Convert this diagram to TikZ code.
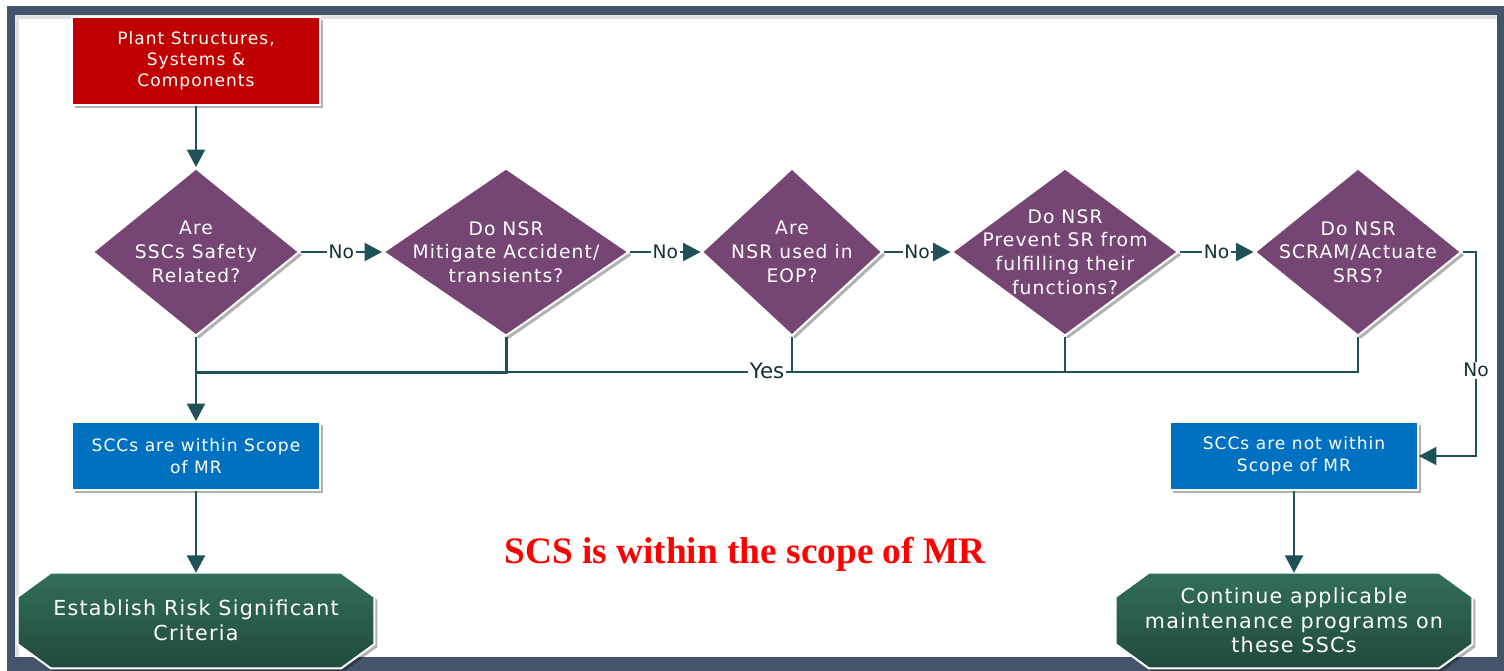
\documentclass[tikz,border=0pt]{standalone}
\usepackage{fontspec}
\setmainfont{DejaVu Sans}[LetterSpace=6]
\newfontfamily\titlefont{Liberation Serif}
\newfontfamily\lblfont{DejaVu Sans}
\usetikzlibrary{arrows.meta,shapes.geometric,shadows,backgrounds,calc}
\definecolor{framec}{RGB}{68,84,106}
\definecolor{redbox}{RGB}{192,0,0}
\definecolor{purp}{RGB}{117,70,115}
\definecolor{bluebox}{RGB}{0,112,192}
\definecolor{lineteal}{RGB}{31,82,87}
\definecolor{octtop}{RGB}{50,110,92}
\definecolor{octbot}{RGB}{33,74,62}
\newcommand\octpath[1]{([xshift=24.75pt]#1.north west) -- ([xshift=-24.75pt]#1.north east) -- ([yshift=-18pt]#1.north east) -- ([yshift=18pt]#1.south east) -- ([xshift=-24.75pt]#1.south east) -- ([xshift=24.75pt]#1.south west) -- ([yshift=18pt]#1.south west) -- ([yshift=-18pt]#1.north west) -- cycle}
\tikzset{
  ln/.style={draw=lineteal, line width=1.5pt},
  arr/.style={ln, -{Triangle[width=13.5pt,length=13pt]}},
  shad/.style={drop shadow={shadow xshift=2.25pt, shadow yshift=-2.25pt, opacity=0.3, fill=black}},
  rbox/.style={rectangle, fill=redbox, draw=white, line width=1.5pt, text=white,
    minimum width=186pt, minimum height=66pt, align=center, inner sep=0pt,
    font=\fontsize{12.8}{15.75}\selectfont, shad},
  bbox/.style={rectangle, fill=bluebox, draw=white, line width=1.5pt, text=white,
    minimum width=186pt, minimum height=51pt, align=center, inner sep=0pt,
    font=\fontsize{12.8}{16.5}\selectfont, shad},
  dia/.style={diamond, fill=purp, draw=white, line width=1.5pt, inner sep=0pt, shad},
  dtxt/.style={text=white, align=center, inner sep=0pt, font=\fontsize{14}{17.8}\selectfont},
  oct/.style={rectangle, text=white, align=center, inner sep=0pt,
    minimum width=267pt, minimum height=71.25pt, font=\fontsize{15.5}{18.5}\selectfont},
  lbl/.style={fill=white, text=lineteal!60!black, inner sep=1.2pt, font=\lblfont\fontsize{14}{15}\selectfont},
}
\begin{document}
\begin{tikzpicture}[x=0.75pt, y=-0.75pt]
\useasboundingbox (0,0) rectangle (1504,671);
\begin{scope}[on background layer]
  \fill[white] (0,0) rectangle (1504,671);
  \fill[framec, even odd rule] (7,6) rectangle (1505,672) (15,15) rectangle (1497,657);
  \draw[black!12, line width=2.25pt] (15,17) -- (1497,17);
  \draw[black!12, line width=2.25pt] (17,15) -- (17,657);
\end{scope}

% nodes
\node[rbox] (psc) at (196,61) {Plant Structures,\\Systems \&\\Components};

\node[dia, minimum width=155.25pt, minimum height=126pt,
  label={[dtxt]center:{Are\\SSCs Safety\\Related?}}] (d1) at (196,252) {};
\node[dia, minimum width=184.5pt, minimum height=126pt,
  label={[dtxt]center:{Do NSR\\Mitigate Accident/\\transients?}}] (d2) at (506,252) {};
\node[dia, minimum width=135.75pt, minimum height=126pt,
  label={[dtxt]center:{Are\\NSR used in\\EOP?}}] (d3) at (792,252) {};
\node[dia, minimum width=170.25pt, minimum height=126pt,
  label={[dtxt]center:{Do NSR\\Prevent SR from\\fulfilling their\\functions?}}] (d4) at (1065,252) {};
\node[dia, minimum width=155.25pt, minimum height=126pt,
  label={[dtxt]center:{Do NSR\\SCRAM/Actuate\\SRS?}}] (d5) at (1358,252) {};

\node[bbox] (in) at (196,456) {SCCs are within Scope\\of MR};
\node[bbox] (out) at (1294,456) {SCCs are not within\\Scope of MR};

\node[oct] (o1) at (196,620.5) {Establish Risk Significant\\Criteria};
\node[oct] (o2) at (1294,620.5) {Continue applicable\\maintenance programs on\\these SSCs};
\begin{scope}[on background layer]
  \path[shad, top color=octtop, bottom color=octbot, draw=white, line width=1.5pt] \octpath{o1};
  \path[shad, top color=octtop, bottom color=octbot, draw=white, line width=1.5pt] \octpath{o2};
\end{scope}

\node[text=red, anchor=base, font=\titlefont\bfseries\fontsize{28}{30}\selectfont] (title) at (745,563) {SCS is within the scope of MR};

% connectors
\coordinate (bus) at (196,372);
\coordinate (rc) at (1476,456);
\draw[arr] (psc) -- (d1);
\draw[ln, line width=2.25pt] (d2.south) |- (bus);
\draw[ln] (d3.south) |- (bus);
\draw[ln] (d4.south) |- (bus);
\draw[ln] (d5.south) |- (bus);
\draw[arr] (d1.south) -- (in.north);
\draw[arr] (in.south) -- (o1.north);
\draw[arr] (out.south) -- (o2.north);
\draw[arr] (d1.east) -- node[lbl]{No} (d2.west);
\draw[arr] (d2.east) -- node[lbl]{No} (d3.west);
\draw[arr] (d3.east) -- node[lbl]{No} (d4.west);
\draw[arr] (d4.east) -- node[lbl]{No} (d5.west);
\draw[arr] (d5.east) -| node[lbl, pos=0.79]{No} (rc) -- (out.east);
\node[lbl, font=\lblfont\fontsize{16}{18}\selectfont] (yes) at (767,371) {Yes};
\end{tikzpicture}
\end{document}
